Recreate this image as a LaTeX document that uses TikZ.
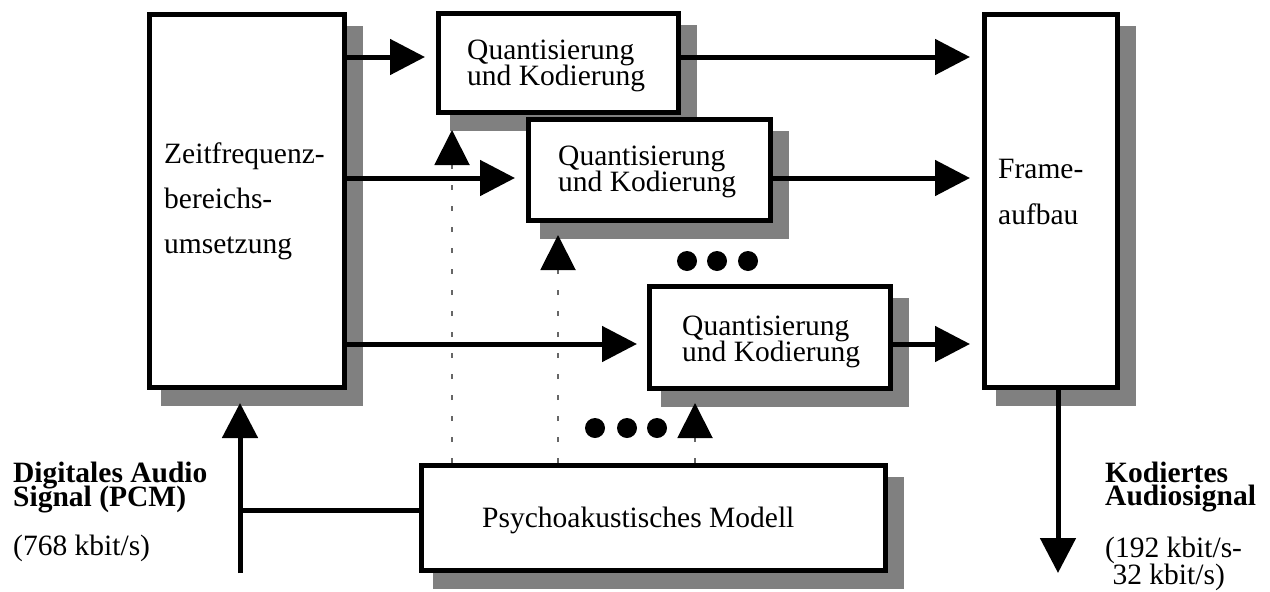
\documentclass[tikz,border=0pt]{standalone}
\usepackage{fontspec}
\setmainfont{Liberation Serif}
\usetikzlibrary{arrows.meta}
\pgfdeclarelayer{background}
\pgfsetlayers{background,main}
\newcommand\stackedlines[2]{\vtop{\baselineskip=#1\lineskiplimit=-100pt\relax #2}}
\tikzset{
  box/.style={draw, line width=5pt, fill=white, rectangle, inner sep=0pt, outer sep=2.5pt},
  shadowc/.style={fill=black!50},
  arr/.style={line width=5pt, -{Triangle[length=35pt,width=35pt]}},
  plain/.style={line width=5pt},
  dotarr/.style={line width=2pt, draw=black!60, dash pattern=on 5pt off 16pt, -{Triangle[length=35pt,width=35pt,color=black]}},
  txt/.style={inner sep=0pt, anchor=base west, font=\fontsize{29.5pt}{30pt}\selectfont},
  btxt/.style={txt, font=\fontsize{29.5pt}{30pt}\selectfont\bfseries},
}
\begin{document}
\begin{tikzpicture}[x=1pt,y=-1pt]
\useasboundingbox (0,0) rectangle (1270,592);
% boxes
\node[box, minimum width=195pt, minimum height=373pt] (zeit) at (247,201) {};
\node[box, minimum width=240pt, minimum height=99pt] (q1) at (558.5,63) {};
\node[box, minimum width=242pt, minimum height=101pt] (q2) at (649.5,170) {};
\node[box, minimum width=241pt, minimum height=102pt] (q3) at (770,337.5) {};
\node[box, minimum width=133pt, minimum height=373pt] (frame) at (1051,201) {};
\node[box, minimum width=464pt, minimum height=105pt] (psy) at (653.5,518) {};
% shadows
\begin{pgfonlayer}{background}
\foreach \n in {zeit,q1,q2,q3,frame,psy}
  \fill[shadowc] ([shift={(14,14)}]\n.north west) rectangle ([shift={(16,16)}]\n.south east);
\end{pgfonlayer}
% texts
\node[txt] (tz) at (164,163) {\stackedlines{45pt}{\hbox{Zeitfrequenz-}\hbox{bereichs-}\hbox{umsetzung}}};
\node[txt] (t1) at (467,59) {\stackedlines{26pt}{\hbox{Quantisierung}\hbox{und Kodierung}}};
\node[txt] (t2) at (558,165) {\stackedlines{26pt}{\hbox{Quantisierung}\hbox{und Kodierung}}};
\node[txt] (t3) at (682,335) {\stackedlines{26pt}{\hbox{Quantisierung}\hbox{und Kodierung}}};
\node[txt] (tf) at (998,178) {\stackedlines{46pt}{\hbox{Frame-}\hbox{aufbau}}};
\node[txt] (tp) at (482,527) {Psychoakustisches Modell};
\node[btxt] (tin) at (13,482) {\stackedlines{24pt}{\hbox{Digitales Audio}\hbox{Signal (PCM)}}};
\node[txt] (tinr) at (13,555) {(768 kbit/s)};
\node[btxt] (tout) at (1105,482) {\stackedlines{23pt}{\hbox{Kodiertes}\hbox{Audiosignal}}};
\node[txt] (toutr) at (1105,557) {\stackedlines{27pt}{\hbox{(192 kbit/s-}\hbox{\ 32 kbit/s)}}};
% connectors
\coordinate (r1) at (0,57);
\coordinate (r2) at (0,178);
\coordinate (r3) at (0,344);
\draw[arr, shorten >=11pt] (zeit.east |- r1) -- (q1.west |- r1);
\draw[arr, shorten >=11pt] (zeit.east |- r2) -- (q2.west |- r2);
\draw[arr, shorten >=10pt] (zeit.east |- r3) -- (q3.west |- r3);
\draw[arr, shorten >=12pt] (q1.east |- r1) -- (frame.west |- r1);
\draw[arr, shorten >=12pt] (q2.east |- r2) -- (frame.west |- r2);
\draw[arr, shorten >=12pt] (q3.east |- r3) -- (frame.west |- r3);
\coordinate (in) at (240,573);
\coordinate (br) at (240,510);
\coordinate (out) at (1058,573);
\draw[arr, shorten >=13pt] (in) -- (zeit.south -| in);
\draw[plain] (br) -- (psy.west |- br);
\draw[arr] (frame.south -| out) -- (out);
\coordinate (d1) at (452,0);
\coordinate (d2) at (558,0);
\coordinate (d3) at (695,0);
\draw[dotarr, shorten >=15pt] (psy.north -| d1) -- (q1.south -| d1);
\draw[dotarr, shorten >=12pt] (psy.north -| d2) -- (q2.south -| d2);
\draw[dotarr, shorten >=12pt] (psy.north -| d3) -- (q3.south -| d3);
% ellipsis dots
\foreach \x in {687,717,748} \fill (\x,261) circle (10);
\foreach \x in {595,627,657} \fill (\x,428) circle (10);
\end{tikzpicture}
\end{document}
